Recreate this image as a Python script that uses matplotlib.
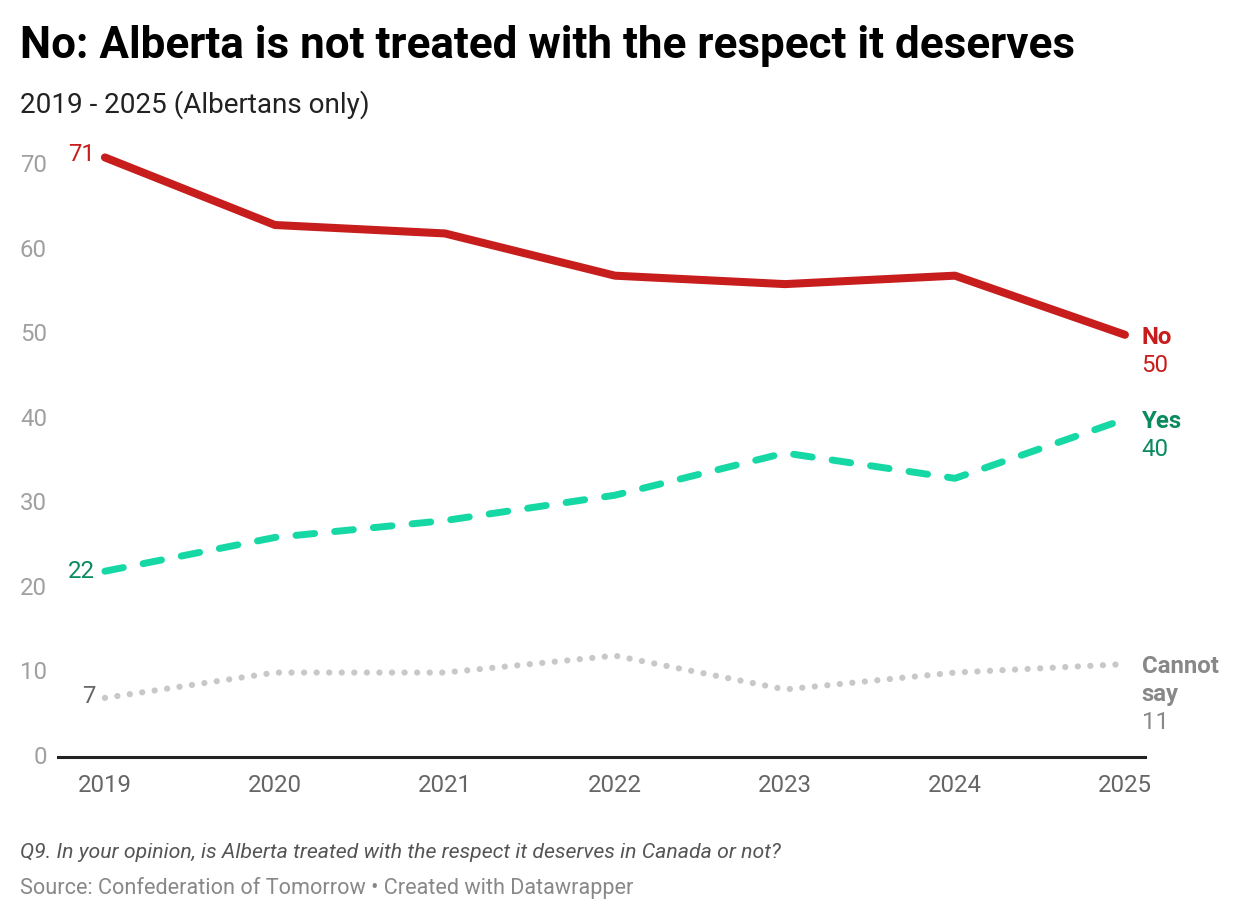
import matplotlib
matplotlib.use("Agg")
import matplotlib.pyplot as plt

years = [2019, 2020, 2021, 2022, 2023, 2024, 2025]
no_vals = [71, 63, 62, 57, 56, 57, 50]
yes_vals = [22, 26, 28, 31, 36, 33, 40]
cannot_vals = [7, 10, 10, 12, 8, 10, 11]
y_ticks = [0, 10, 20, 30, 40, 50, 60, 70]

plt.rcParams['font.family'] = ['Roboto', 'DejaVu Sans']

W, H = 1240, 922
fig = plt.figure(figsize=(W / 100, H / 100), dpi=100)
ax = fig.add_axes([58 / W, 1 - 757 / H, (1145 - 58) / W, (757 - 149) / H])

red = '#c71e1d'
green_line = '#15d8a4'
green_text = '#0b8a5f'
grey_line = '#c8c8c8'
grey_text = '#888888'

ax.plot(years, no_vals, color=red, lw=5.8, solid_capstyle='round',
        solid_joinstyle='round', zorder=3)
ax.plot(years, yes_vals, color=green_line, lw=5.0, dashes=(2.7, 2.9),
        dash_capstyle='round', dash_joinstyle='round', zorder=3)
ax.plot(years, cannot_vals, color=grey_line, lw=4.5, dashes=(0.01, 2.0),
        dash_capstyle='round', zorder=2)

ax.set_xlim(2018.724, 2025.118)
ax.set_ylim(0, 72)

for s in ['top', 'right', 'left']:
    ax.spines[s].set_visible(False)
ax.spines['bottom'].set_color('#222222')
ax.spines['bottom'].set_linewidth(2.2)

ax.set_xticks(years)
ax.set_xticklabels([str(y) for y in years])
ax.set_yticks(y_ticks)
ax.set_yticklabels([str(t) for t in y_ticks])
ax.tick_params(axis='both', length=0, labelsize=17.3)
ax.tick_params(axis='x', pad=12, labelcolor='#666666')
ax.tick_params(axis='y', pad=8, labelcolor='#a0a0a0')
for lab in ax.get_yticklabels():
    lab.set_verticalalignment('center')

fs = 17.3
ax.annotate(str(no_vals[0]), (years[0], no_vals[0]), xytext=(-7, 2),
            textcoords='offset points', ha='right', va='center',
            color=red, fontsize=fs)
ax.annotate(str(yes_vals[0]), (years[0], yes_vals[0]), xytext=(-7, 0),
            textcoords='offset points', ha='right', va='center',
            color=green_text, fontsize=fs)
ax.annotate(str(cannot_vals[0]), (years[0], cannot_vals[0]), xytext=(-7, 1),
            textcoords='offset points', ha='right', va='center',
            color='#666666', fontsize=fs)


def right_label(y_val, name_lines, value, col):
    off = -2
    for ln in name_lines:
        ax.annotate(ln, (years[-1], y_val), xytext=(12, off),
                    textcoords='offset points', ha='left', va='center',
                    color=col, fontsize=fs, fontweight='bold',
                    annotation_clip=False)
        off -= 20
    ax.annotate(str(value), (years[-1], y_val), xytext=(12, off),
                textcoords='offset points', ha='left', va='center',
                color=col, fontsize=fs, annotation_clip=False)


right_label(no_vals[-1], ['No'], no_vals[-1], red)
right_label(yes_vals[-1], ['Yes'], yes_vals[-1], green_text)
right_label(cannot_vals[-1], ['Cannot', 'say'], cannot_vals[-1], grey_text)

fig.text(20 / W, 1 - 46 / H, 'No: Alberta is not treated with the respect it deserves',
         fontsize=31.7, fontweight='bold', color='#000000', va='center', ha='left')
fig.text(20 / W, 1 - 105 / H, '2019 - 2025 (Albertans only)',
         fontsize=20.1, color='#222222', va='center', ha='left')
fig.text(20 / W, 1 - 852 / H,
         'Q9. In your opinion, is Alberta treated with the respect it deserves in Canada or not?',
         fontsize=15.3, style='italic', color='#555555', va='center', ha='left')
fig.text(20 / W, 1 - 888 / H,
         'Source: Confederation of Tomorrow \u2022 Created with Datawrapper',
         fontsize=15.6, color='#888888', va='center', ha='left')

fig.savefig('out.png', dpi=100, facecolor='white')
